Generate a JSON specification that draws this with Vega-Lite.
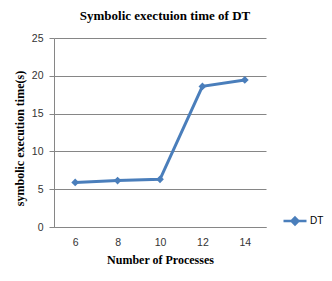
{
  "$schema": "https://vega.github.io/schema/vega-lite/v6.json",
  "width": 212,
  "height": 189,
  "autosize": "none",
  "padding": {"left": 54, "top": 38, "right": 66, "bottom": 54},
  "background": "white",
  "title": {
    "text": "Symbolic exectuion time of DT",
    "font": "Liberation Serif",
    "fontSize": 13,
    "fontWeight": "bold",
    "color": "#000000",
    "offset": 10,
    "dx": 5
  },
  "config": {
    "view": {"stroke": null},
    "axis": {
      "labelFont": "Liberation Sans",
      "labelFontSize": 10.5,
      "labelColor": "#333333",
      "titleFont": "Liberation Serif",
      "titleFontSize": 12,
      "titleFontWeight": "bold",
      "titleColor": "#000000",
      "domainColor": "#868686",
      "gridColor": "#868686",
      "tickColor": "#868686"
    }
  },
  "data": {
    "values": [
      {"processes": 6, "time": 5.9, "series": "DT"},
      {"processes": 8, "time": 6.15, "series": "DT"},
      {"processes": 10, "time": 6.3, "series": "DT"},
      {"processes": 12, "time": 18.6, "series": "DT"},
      {"processes": 14, "time": 19.45, "series": "DT"}
    ]
  },
  "encoding": {
    "x": {
      "field": "processes",
      "type": "ordinal",
      "scale": {"type": "point", "padding": 0.5},
      "axis": {
        "title": "Number of Processes",
        "labelAngle": 0,
        "ticks": false,
        "grid": false,
        "labelPadding": 10,
        "titlePadding": 7
      }
    },
    "y": {
      "field": "time",
      "type": "quantitative",
      "scale": {"domain": [0, 25], "nice": false},
      "axis": {
        "title": "symbolic execution  time(s)",
        "values": [0, 5, 10, 15, 20, 25],
        "tickSize": 5,
        "labelPadding": 6,
        "titlePadding": 5,
        "titleY": 100,
        "grid": true,
        "gridWidth": 1
      }
    },
    "color": {
      "field": "series",
      "type": "nominal",
      "scale": {"range": ["#4a7ebb"]},
      "legend": {
        "title": null,
        "orient": "none",
        "legendX": 228,
        "legendY": 170,
        "symbolType": "M-1,0L1,0M0,-0.3L0.3,0L0,0.3L-0.3,0Z",
        "symbolSize": 529,
        "symbolStrokeWidth": 2.5,
        "symbolFillColor": "#4a7ebb",
        "labelFont": "Liberation Sans",
        "labelFontSize": 10,
        "labelColor": "#000000",
        "labelOffset": 2
      }
    }
  },
  "layer": [
    {"mark": {"type": "line", "strokeWidth": 3}},
    {"mark": {"type": "point", "shape": "diamond", "filled": true, "size": 60, "opacity": 1}}
  ]
}
